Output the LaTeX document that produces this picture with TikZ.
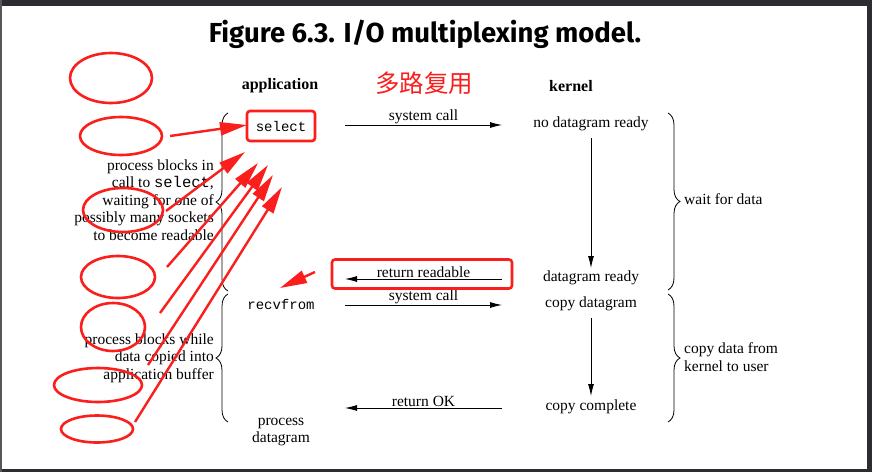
\documentclass[tikz,border=0pt]{standalone}
\usepackage{fontspec}
\setmainfont{Liberation Serif}
\setmonofont{Liberation Mono}
\newfontfamily\titlefont{Fira Sans}
\newfontfamily\cjkfont{Noto Sans CJK SC}
\usetikzlibrary{arrows.meta,positioning,shapes.geometric,decorations.pathreplacing}
\definecolor{markred}{RGB}{250,30,28}
\definecolor{framegray}{RGB}{44,44,50}

\begin{document}
\begin{tikzpicture}[
  x=1pt,y=-1pt,
  font=\fontsize{15.5}{17.6}\selectfont,>={Latex[length=12pt,width=6pt]},
  flow/.style={->, thick},
  colhead/.style={font=\bfseries\fontsize{16}{18}\selectfont},
  sidenote/.style={align=right, anchor=east, inner sep=0pt},
  kernnote/.style={align=left, anchor=west, inner sep=0pt},
  bracestyle/.style={decorate, decoration={brace, amplitude=12pt}, thick},
  redbox/.style={draw=markred, line width=2.6pt, rounded corners=3pt},
  ring/.style={draw=markred, line width=2.6pt, ellipse, inner sep=0pt},
  redarrow/.style={-{Triangle[length=27pt,width=13pt]}, markred, line width=2.4pt},
]

% --- page and screen frame ---
\fill[white] (0,0) rectangle (872,472);
\useasboundingbox (0,0) rectangle (872,472);
\fill[framegray] (0,0) rectangle (872,6);
\fill[framegray] (867,0) rectangle (872,472);
\fill[framegray] (0,469) rectangle (872,472);
\fill[framegray!80] (0,0) rectangle (2,472);

% --- title and column heads ---
\node[font=\titlefont\bfseries\fontsize{27.5}{30}\selectfont] (title) at (425,34) {Figure 6.3. I/O multiplexing model.};
\node[colhead] (apphead) at (280,86) {application};
\node[colhead] (kernhead) at (571,86) {kernel};
\node[font=\cjkfont\fontsize{24.5}{26}\selectfont, text=markred] (mux) at (424,83) {多路复用};

% --- application column ---
\node[redbox, font=\ttfamily\fontsize{14}{16}\selectfont, minimum width=68pt, minimum height=30pt] (sel) at (281,126) {select};
\node[font=\ttfamily\fontsize{14}{16}\selectfont] (recv) at (281,304) {recvfrom};
\node[align=center] (procdg) at (281,432) {process\\datagram};

% --- kernel column ---
\node (nodg) at (591,124) {no datagram ready};
\node (dgready) at (591,278) {datagram ready};
\node (copydg) at (591,304) {copy datagram};
\node (copydone) at (591,407) {copy complete};

% arrow columns
\coordinate (appx) at (345,0);
\coordinate (kernx) at (502,0);

% --- system calls and returns ---
\draw[flow] (appx |- 0,125) -- node[above, inner sep=1pt] (sc1) {system call} (kernx |- 0,125);
\draw[flow] (kernx |- 0,279) -- node[above, inner sep=1pt] (rr) {return readable} (appx |- 0,279);
\draw[flow] (appx |- 0,305) -- node[above, inner sep=1pt] (sc2) {system call} (kernx |- 0,305);
\draw[flow] (kernx |- 0,408) -- node[above, inner sep=1pt] (rok) {return OK} (appx |- 0,408);
\draw[flow] (591,138) -- (591,268);
\draw[flow] (591,318) -- (591,396);

% --- braces on the application side ---
\draw[bracestyle] (228,291) -- (228,113);
\draw[bracestyle] (228,422) -- (228,294);
\node[sidenote] (wait1) at (214,200) {process blocks in\\call to \texttt{select},\\waiting for one of\\possibly many sockets\\to become readable};
\node[sidenote] (wait2) at (214,358) {process blocks while\\data copied into\\application buffer};

% --- braces on the kernel side ---
\draw[bracestyle] (668,113) -- (668,290);
\draw[bracestyle] (668,294) -- (668,422);
\node[kernnote] (waitdata) at (684,199) {wait for data};
\node[kernnote, font=\fontsize{15.5}{18}\selectfont] (copydata) at (684,357) {copy data from\\kernel to user};

% --- red annotations ---
\node[redbox, minimum width=180pt, minimum height=29pt] (rrbox) at (422,274) {};
\node[ring, minimum width=82pt, minimum height=50pt] (r1) at (111,78) {};
\node[ring, minimum width=82pt, minimum height=38pt] (r2) at (121,136) {};
\node[ring, minimum width=80pt, minimum height=44pt] (r3) at (123,210) {};
\node[ring, minimum width=74pt, minimum height=42pt] (r4) at (118,277) {};
\node[ring, minimum width=64pt, minimum height=48pt] (r5) at (113,327) {};
\node[ring, minimum width=88pt, minimum height=34pt] (r6) at (98,385) {};
\node[ring, minimum width=72pt, minimum height=27pt] (r7) at (97,429) {};

\coordinate (t1) at (170,136); \coordinate (h1) at (247,125);
\coordinate (t2) at (166,211); \coordinate (h2) at (245,152);
\coordinate (t3) at (167,267); \coordinate (h3) at (258,163);
\coordinate (t4) at (160,313); \coordinate (h4) at (268,165);
\coordinate (t5) at (148,365); \coordinate (h5) at (273,175);
\coordinate (t6) at (135,422); \coordinate (h6) at (282,187);
\foreach \i in {1,...,6} {
  \draw[redarrow] (t\i) -- (h\i);
}
\coordinate (t7) at (315,272); \coordinate (h7) at (280,288);
\draw[redarrow] (t7) -- (h7);

\end{tikzpicture}
\end{document}
